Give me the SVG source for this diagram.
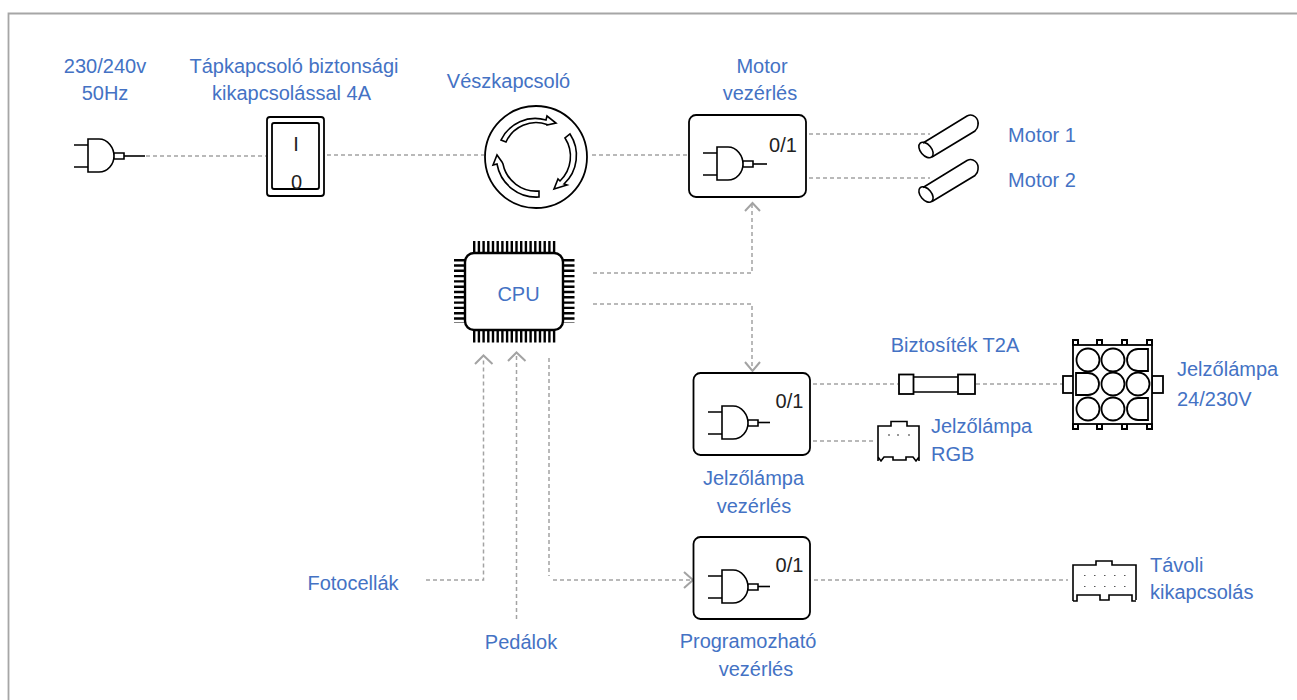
<svg xmlns="http://www.w3.org/2000/svg" width="1297" height="700" viewBox="0 0 1297 700">
<style>
text{font-family:"Liberation Sans",Arial,sans-serif;font-size:20px;fill:#4472c4;text-anchor:middle}
text.l{text-anchor:start}
text.k{fill:#222}
.s{fill:none;stroke:#000;stroke-width:1.6}
.w{fill:#fff;stroke:#000;stroke-width:1.8}
.c{fill:none;stroke:#a3a3a3;stroke-width:1.5;stroke-dasharray:4 3}
.h{fill:none;stroke:#a3a3a3;stroke-width:2}
</style>
<defs>
<path id="plug" class="s" d="M0 0H14M0 22H14M14 -6H25C34 -6 40 3 40 11C40 19 34 27 25 27H14ZM40 8H50V14H40Z"/>
</defs>
<path d="M8.500 700V13.500H1297" fill="none" stroke="#a6a6a6" stroke-width="1.800"/>
<g id="connectors">
<path class="c" d="M146 156H266M327 155H484M592 155H688M809 134H930M809 178H930"/>
<path class="c" d="M593 273H752V204"/><path class="h" d="M745 211L752.500 203L760 211"/>
<path class="c" d="M593 304H752V368"/><path class="h" d="M745 362L752.500 371L760 362"/>
<path class="c" d="M813 384H898M976 384H1063M813 441H876"/>
<path class="c" d="M426 580H483.500V358"/><path class="h" d="M475 364L483.500 355.500L492.500 364"/>
<path class="c" d="M516.500 619V355"/><path class="h" d="M508 361L516.500 352.500L525.500 361"/>
<path class="c" d="M549 358V576"/><path class="c" d="M553 580H690"/><path class="h" d="M684 572L693 580L684 588"/>
<path class="c" d="M807 580H1068"/>
</g>
<g id="source"><use href="#plug" x="74" y="145"/><path class="s" d="M124 156H145"/></g>
<g id="switch"><rect class="w" x="267" y="117" width="57" height="79" rx="3"/><rect class="w" x="272" y="123" width="47" height="66" rx="2"/><text class="k" x="296" y="151">I</text><text class="k" x="296.500" y="189">0</text></g>
<g id="estop"><circle class="w" cx="536" cy="157" r="51"/>
<path class="s" d="M501 140A38 38 0 0 1 546 120L547 116L556 123L547 125L547 124.500A33 33 0 0 0 506 142Z"/>
<path class="s" d="M570 134A39 39 0 0 1 564 184L567 185L554 189L558 179L560 181A34 34 0 0 0 565 138Z"/>
<path class="s" d="M539 191A34 34 0 0 1 503 164L502 162L497 155L493 165L497 164A40 40 0 0 0 539 197Z"/></g>
<g id="motorctl"><rect class="w" x="689" y="115" width="117" height="82" rx="7"/><use href="#plug" x="703" y="153"/><path class="s" d="M753 164H767"/><text class="k" x="783" y="151.500">0/1</text></g>
<g id="motor1"><path class="s" d="M923 143L967 116C973 113 979 118 978 125C978 127 977 129 975 131L932 157"/><ellipse class="s" cx="926" cy="150" rx="5.500" ry="9" transform="rotate(-40 926 150)"/></g>
<g id="motor2"><path class="s" d="M923 187.500L967 160.500C973 157.500 979 162.500 978 169.500C978 171.500 977 173.500 975 175.500L932 201.500"/><ellipse class="s" cx="926" cy="194.500" rx="5.500" ry="9" transform="rotate(-40 926 194.500)"/></g>
<g id="cpu">
<g stroke="#000" fill="none"><path stroke-width="12" stroke-dasharray="2.400 2.300" d="M473 247H556M473 336.500H556"/><path stroke-width="12" stroke-dasharray="2.400 2.900" d="M460 259V323M568.500 259V323"/></g>
<rect x="465" y="253" width="98" height="77" rx="9" fill="#fff" stroke="#000" stroke-width="2.400"/><text x="518.500" y="300.500">CPU</text></g>
<g id="lampctl"><rect class="w" x="693.500" y="373" width="116.500" height="82" rx="7"/><use href="#plug" x="708" y="412"/><path class="s" d="M758 422.500H770"/><text class="k" x="789.500" y="408">0/1</text></g>
<g id="fuse"><rect class="w" x="899" y="374.500" width="14.500" height="19.500"/><rect class="w" x="958" y="374.500" width="17" height="19.500"/><path class="s" d="M913.500 377H958M913.500 392H958"/></g>
<g id="rgb"><path class="s" d="M878 461V426H891V421.500H907V426H919V461M878 457L881 461L884 457H893V460H906V457H913L916 461L919 457"/><path d="M888 435H890M897 435H899M908 435H910" stroke="#333"/></g>
<g id="lamp"><rect class="w" x="1063" y="376" width="11" height="17"/><rect class="w" x="1152" y="376" width="11" height="17"/><path stroke="#000" stroke-width="2" fill="#fff" d="M1073 345V340H1078V345ZM1097 345V340H1102V345ZM1122 345V340H1127V345ZM1147 345V340H1152V345ZM1073 424V429H1078V424ZM1097 424V429H1102V424ZM1122 424V429H1127V424ZM1147 424V429H1152V424Z"/><rect class="w" x="1073" y="345" width="79" height="79"/>
<circle class="w" cx="1088" cy="360" r="11.500"/><circle class="w" cx="1113" cy="360" r="11.500"/><path class="w" d="M1148 349V371H1138A11 11 0 0 1 1138 349Z"/>
<path class="w" d="M1076 373V395H1088A11 11 0 0 0 1088 373Z"/><circle class="w" cx="1113" cy="384" r="11.500"/><circle class="w" cx="1138" cy="384" r="11.500"/>
<circle class="w" cx="1088" cy="409" r="11.500"/><circle class="w" cx="1113" cy="409" r="11.500"/><path class="w" d="M1148 398V420H1138A11 11 0 0 1 1138 398Z"/></g>
<g id="progctl"><rect class="w" x="693.500" y="537" width="116.500" height="82" rx="7"/><use href="#plug" x="708" y="576"/><path class="s" d="M758 586.500H770"/><text class="k" x="789.500" y="572">0/1</text></g>
<g id="remote"><path class="s" d="M1073 601V565H1096V561H1112V565H1136V600M1073 601H1077V595H1100V600H1109V595H1132V601H1136"/><path d="M1084 575.500H1126M1084 586.500H1126" stroke="#555" stroke-dasharray="1.500 8.500"/></g>
<g id="labels">
<text x="105" y="73">230/240v</text><text x="105" y="100">50Hz</text>
<text x="294" y="73">Tápkapcsoló biztonsági</text><text x="291.500" y="100">kikapcsolással 4A</text>
<text x="508.500" y="88">Vészkapcsoló</text>
<text x="762" y="73">Motor</text><text x="760" y="100">vezérlés</text>
<text x="1042" y="142">Motor 1</text><text x="1042" y="187">Motor 2</text>
<text x="955" y="352">Biztosíték T2A</text>
<text class="l" x="1177" y="376">Jelzőlámpa</text><text class="l" x="1177" y="406">24/230V</text>
<text class="l" x="931" y="433">Jelzőlámpa</text><text class="l" x="931" y="461">RGB</text>
<text x="753.500" y="485">Jelzőlámpa</text><text x="754" y="513">vezérlés</text>
<text x="353" y="590">Fotocellák</text>
<text x="521" y="649">Pedálok</text>
<text x="748" y="648">Programozható</text><text x="756" y="676">vezérlés</text>
<text class="l" x="1150" y="572">Távoli</text><text class="l" x="1150" y="599">kikapcsolás</text>
</g>
</svg>
